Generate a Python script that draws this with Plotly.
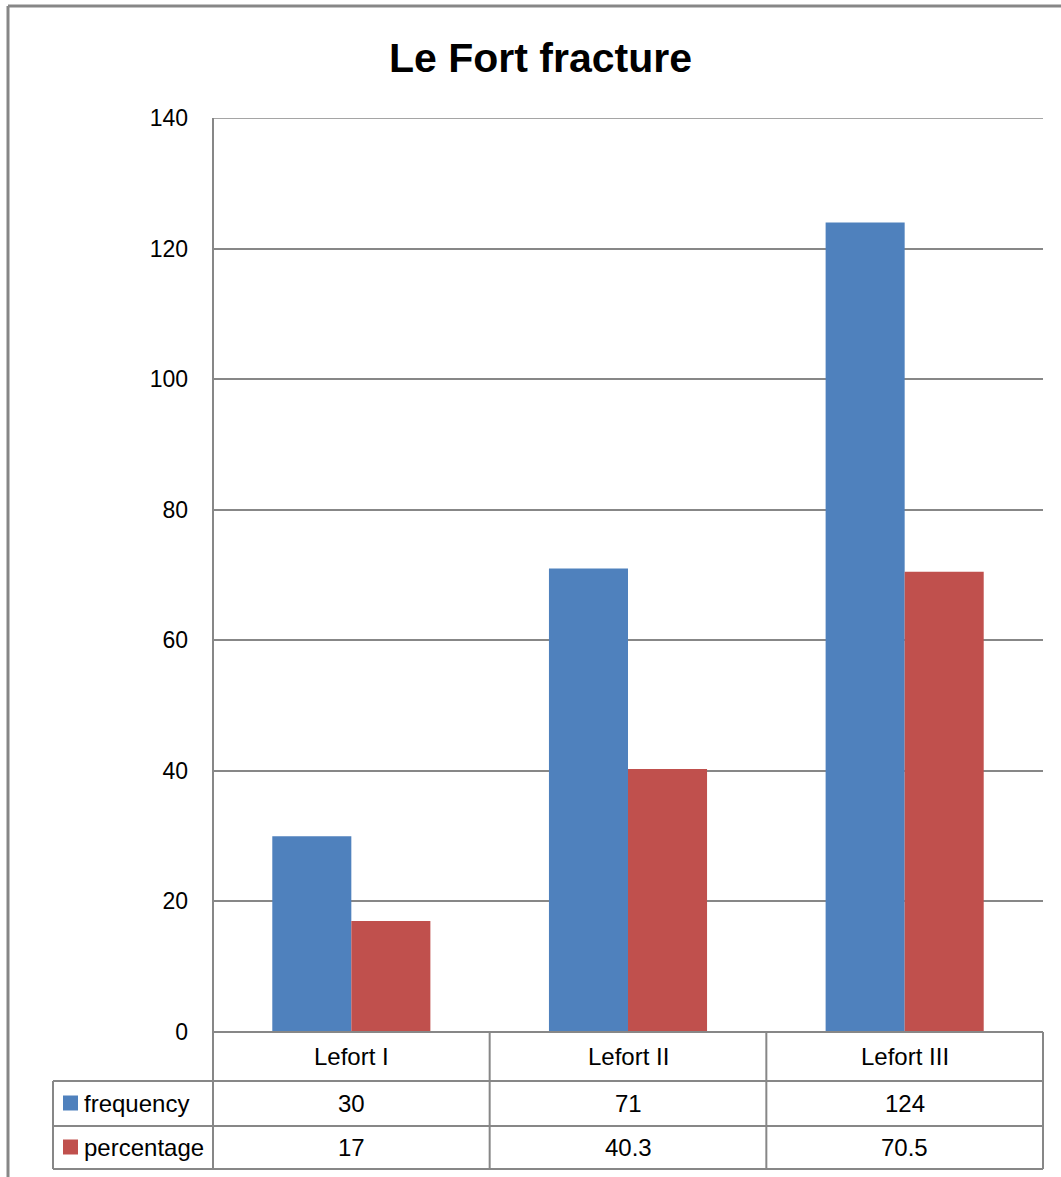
import plotly.graph_objects as go

# Le Fort fracture counts and shares per fracture type
categories = ["Lefort I", "Lefort II", "Lefort III"]
frequency = [30, 71, 124]
percentage = [17, 40.3, 70.5]
series_names = ["frequency", "percentage"]
series_values = [frequency, percentage]
series_colors = ["#4F81BD", "#C0504D"]
y_ticks = [0, 20, 40, 60, 80, 100, 120, 140]

W, H = 1061, 1177
FONT = "Liberation Sans, Arial, sans-serif"
GRID = "#878787"


def px(x):
    return x / W


def py(y):
    return 1 - y / H


# plot area in pixels
left, right, top, bottom = 213, 1043, 118, 1032
row_edges = [1032, 1081, 1126, 1169]
col_edges = [left + (right - left) * i / len(categories) for i in range(len(categories) + 1)]
legend_left = 53

fig = go.Figure()
for name, vals, col in zip(series_names, series_values, series_colors):
    fig.add_trace(go.Bar(
        name=name, x=categories, y=vals,
        marker=dict(color=col, line=dict(width=0)),
    ))

shapes = []


def hline(y, x0, x1, w=2):
    shapes.append(dict(type="line", xref="paper", yref="paper",
                       x0=px(x0), x1=px(x1), y0=py(y), y1=py(y),
                       line=dict(color=GRID, width=w)))


def vline(x, y0, y1, w=2):
    shapes.append(dict(type="line", xref="paper", yref="paper",
                       x0=px(x), x1=px(x), y0=py(y0), y1=py(y1),
                       line=dict(color=GRID, width=w)))


# outer chart frame
hline(6, 8, W, 3)
vline(8, 6, H, 3)

# top gridline of the value axis (range maximum)
shapes.append(dict(type="line", xref="x domain", yref="y",
                   x0=0, x1=1, y0=y_ticks[-1], y1=y_ticks[-1],
                   line=dict(color=GRID, width=1.5)))

# data table grid
hline(row_edges[0], left, right)
for y in row_edges[1:]:
    hline(y, legend_left, right)
vline(left, top, row_edges[-1])
vline(legend_left, row_edges[1], row_edges[-1])
for x in col_edges[1:]:
    vline(x, row_edges[0], row_edges[-1])

annotations = [dict(
    text="<b>Le Fort fracture</b>", xref="paper", yref="paper",
    x=px(540), y=py(58), showarrow=False, xanchor="center", yanchor="middle",
    font=dict(family=FONT, size=41, color="black"),
)]

cell_font = dict(family=FONT, size=24, color="black")
# header row with category names
for i, cat in enumerate(categories):
    cx = (col_edges[i] + col_edges[i + 1]) / 2
    cy = (row_edges[0] + row_edges[1]) / 2
    annotations.append(dict(text=cat, xref="paper", yref="paper", x=px(cx), y=py(cy),
                            showarrow=False, xanchor="center", yanchor="middle", font=cell_font))

# value rows with legend keys
for r, (name, vals, col) in enumerate(zip(series_names, series_values, series_colors)):
    cy = (row_edges[r + 1] + row_edges[r + 2]) / 2
    shapes.append(dict(type="rect", xref="paper", yref="paper",
                       x0=px(63), x1=px(78), y0=py(cy - 8), y1=py(cy + 7),
                       fillcolor=col, line=dict(width=0)))
    annotations.append(dict(text=name, xref="paper", yref="paper", x=px(82), y=py(cy),
                            showarrow=False, xanchor="left", yanchor="middle", font=cell_font))
    for i, v in enumerate(vals):
        cx = (col_edges[i] + col_edges[i + 1]) / 2
        annotations.append(dict(text=str(v), xref="paper", yref="paper", x=px(cx), y=py(cy),
                                showarrow=False, xanchor="center", yanchor="middle", font=cell_font))

fig.update_layout(
    width=W, height=H, autosize=False,
    margin=dict(l=0, r=0, t=0, b=0, pad=0),
    paper_bgcolor="white", plot_bgcolor="white",
    showlegend=False,
    barmode="group", bargap=1.5 / 3.5, bargroupgap=0,
    shapes=shapes, annotations=annotations,
    xaxis=dict(domain=[px(left), px(right)], showticklabels=False, showgrid=False,
               zeroline=False, showline=False, ticks="", automargin=False),
    yaxis=dict(domain=[py(bottom), py(top)], range=[0, 140], tickvals=y_ticks,
               showgrid=True, gridcolor=GRID, gridwidth=1.5, zeroline=False,
               showline=False, ticks="", ticklabelstandoff=24, automargin=False,
               tickfont=dict(family=FONT, size=23, color="black")),
)

fig.write_html("out.html")
